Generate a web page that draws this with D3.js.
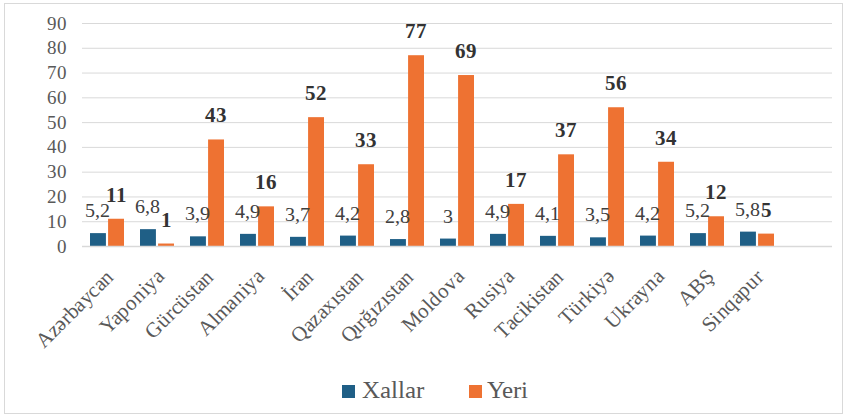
<!DOCTYPE html>
<html><head><meta charset="utf-8">
<script src="https://cdn.jsdelivr.net/npm/d3@7"></script>
</head><body style="margin:0">
<script>
const categories = ["Azərbaycan","Yaponiya","Gürcüstan","Almaniya","İran","Qazaxıstan","Qırğızıstan","Moldova","Rusiya","Tacikistan","Türkiyə","Ukrayna","ABŞ","Sinqapur"];
const xallar = [5.2,6.8,3.9,4.9,3.7,4.2,2.8,3,4.9,4.1,3.5,4.2,5.2,5.8];
const yeri = [11,1,43,16,52,33,77,69,17,37,56,34,12,5];
const seriesNames = ["Xallar","Yeri"];
const yTicks = [0,10,20,30,40,50,60,70,80,90];
const colors = ["#1F5F86","#EE7232"];

d3.select("head").append("style").text(
  '@font-face{font-family:"ChartSerif";src:local("Liberation Serif"),local("LiberationSerif"),local("Tinos"),local("Times New Roman");font-weight:normal;}' +
  '@font-face{font-family:"ChartSerif";src:local("Liberation Serif Bold"),local("LiberationSerif-Bold"),local("Tinos Bold"),local("Times New Roman Bold");font-weight:bold;}');
const FONT='"ChartSerif","Liberation Serif","Tinos",serif';

function serif(sel){ return sel.attr("font-family",FONT).style("font-family",FONT); }

const W=847,H=417;
const svg=d3.select("body").append("svg").attr("width",W).attr("height",H).style("display","block");
svg.append("rect").attr("x",4.5).attr("y",3.5).attr("width",838).attr("height",410)
  .attr("fill","#fff").attr("stroke","#d9d9d9").attr("stroke-width",1);

// one empty slot after the last category, as in the original
const x=d3.scaleBand().domain(categories.concat([" "])).range([82,832]).padding(0);
const xi=d3.scaleBand().domain(seriesNames).range([8,42]).paddingInner(0.12);
const y=d3.scaleLinear().domain([0,90]).range([246,23]);

const yAxis=d3.axisLeft(y).tickValues(yTicks).tickSize(-750).tickFormat(d=>d);
const gy=svg.append("g").attr("transform","translate(82,0)").call(yAxis);
gy.select(".domain").remove();
serif(gy).attr("font-size",19);
gy.selectAll(".tick line").attr("stroke","#d9d9d9").attr("stroke-width",1);
serif(gy.selectAll(".tick text")).attr("x",-15).attr("fill","#595959");

const data=categories.map((c,i)=>({c,vals:[xallar[i],yeri[i]]}));
const g=svg.append("g");
data.forEach(d=>{
  const gx=x(d.c);
  d.vals.forEach((v,j)=>{
    g.append("rect").attr("x",gx+xi(seriesNames[j])).attr("y",y(v))
      .attr("width",xi.bandwidth()).attr("height",y(0)-y(v)).attr("fill",colors[j]);
  });
});
svg.append("line").attr("x1",82).attr("x2",832).attr("y1",y(0)+0.5).attr("y2",y(0)+0.5)
  .attr("stroke","#d9d9d9").attr("stroke-width",1.5);

data.forEach(d=>{
  const gx=x(d.c);
  serif(svg.append("text")).attr("x",gx+xi("Xallar")+xi.bandwidth()/2).attr("y",y(d.vals[0])-16)
    .attr("text-anchor","middle").attr("font-size",20).attr("fill","#404040")
    .text(String(d.vals[0]).replace(".",","));
  serif(svg.append("text")).attr("x",gx+xi("Yeri")+xi.bandwidth()/2).attr("y",y(d.vals[1])-17)
    .attr("text-anchor","middle").attr("font-size",21).attr("font-weight","bold").attr("fill","#333333")
    .text(String(d.vals[1]).replace(".",","));
});

categories.forEach(c=>{
  const cx=x(c)+x.bandwidth()/2;
  serif(svg.append("text")).attr("transform",`translate(${cx+8},${278}) rotate(-45)`)
    .attr("text-anchor","end").attr("font-size",21).attr("fill","#595959").text(c);
});

const leg=[{n:"Xallar",sx:342,tx:362},{n:"Yeri",sx:469,tx:487}];
leg.forEach((l,i)=>{
  svg.append("rect").attr("x",l.sx).attr("y",385).attr("width",13).attr("height",13).attr("fill",colors[i]);
  serif(svg.append("text")).attr("x",l.tx).attr("y",398).attr("font-size",25).attr("fill","#595959").text(l.n);
});
</script>
</body></html>
